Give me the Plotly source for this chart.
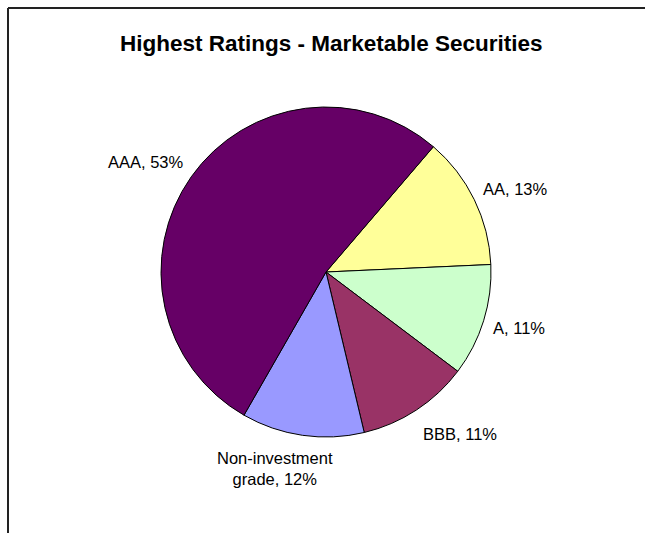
import plotly.graph_objects as go

W, H = 645, 533

categories = ["AA", "A", "BBB", "Non-investment grade", "AAA"]
label_text = ["AA, 13%", "A, 11%", "BBB, 11%", "Non-investment<br>grade, 12%", "AAA, 53%"]
values = [13, 11, 11, 12, 53]
colors = ["#FFFF99", "#CCFFCC", "#993366", "#9999FF", "#660066"]

# label centres in pixels (x, y from top)
label_px = [(515, 189), (519, 328), (460, 434), (275, 469), (146, 162)]

cx, cy, r = 326, 272, 165

fig = go.Figure(go.Pie(
    labels=categories,
    values=values,
    marker=dict(colors=colors, line=dict(color="black", width=1)),
    sort=False,
    direction="clockwise",
    rotation=40.6,
    textinfo="none",
    hoverinfo="label+percent",
    showlegend=False,
    domain=dict(x=[(cx - r) / W, (cx + r) / W], y=[(H - cy - r) / H, (H - cy + r) / H]),
))

for t, (px, py) in zip(label_text, label_px):
    fig.add_annotation(
        x=px / W, y=1 - py / H, xref="paper", yref="paper",
        text=t, showarrow=False, xanchor="center", yanchor="middle",
        font=dict(family="Liberation Sans, Arial", size=16.5, color="black"),
    )

fig.add_annotation(
    x=331 / W, y=1 - 43 / H, xref="paper", yref="paper",
    text="<b>Highest Ratings - Marketable Securities</b>", showarrow=False,
    xanchor="center", yanchor="middle",
    font=dict(family="Liberation Sans, Arial", size=22.5, color="black"),
)

fig.add_shape(type="line", xref="paper", yref="paper",
              x0=8 / W, x1=1.01, y0=1 - 8 / H, y1=1 - 8 / H,
              line=dict(color="#222222", width=2))
fig.add_shape(type="line", xref="paper", yref="paper",
              x0=8 / W, x1=8 / W, y0=1 - 8 / H, y1=-0.01,
              line=dict(color="#222222", width=2))

fig.update_layout(
    width=W, height=H,
    margin=dict(l=0, r=0, t=0, b=0),
    paper_bgcolor="white", plot_bgcolor="white",
)

fig.write_html("out.html", config={"displayModeBar": False},
               post_script="document.body.style.margin='0';document.body.style.overflow='hidden';")
